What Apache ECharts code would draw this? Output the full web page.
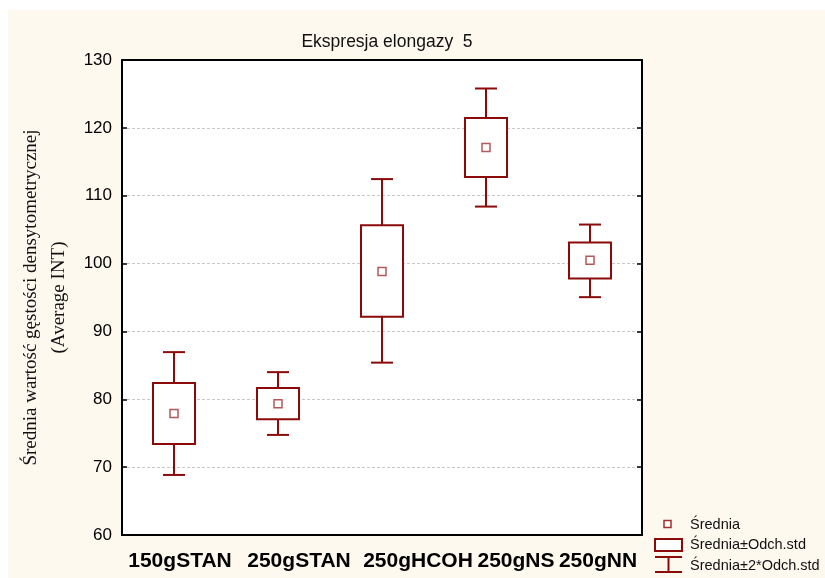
<!DOCTYPE html>
<html>
<head>
<meta charset="utf-8">
<script src="https://cdn.jsdelivr.net/npm/echarts@6/dist/echarts.min.js"></script>
<style>
  html, body { margin: 0; padding: 0; background: #fff; }
  #chart { width: 825px; height: 578px; }
</style>
</head>
<body>
<div id="chart"></div>
<script>
// values
const categories = ['150gSTAN', '250gSTAN', '250gHCOH', '250gNS', '250gNN'];
const means   = [77.9, 79.35, 98.85, 117.1, 100.5];
const sdLow   = [73.4, 77.05, 92.15, 112.75, 97.8];
const sdHigh  = [82.4, 81.65, 105.65, 121.45, 103.1];
const sd2Low  = [68.85, 74.75, 85.4, 108.4, 95.05];
const sd2High = [86.95, 84.0, 112.45, 125.8, 105.75];
const yTicks  = [60, 70, 80, 90, 100, 110, 120, 130];

const red = '#8b0a0a';
const cream = '#fef9ef';

// the category labels are set as one run of text, shifted off their ticks
const labelShift = [6, 21, 36, 30, 8];

let boxData = categories.map(function (c, i) {
    return [i, sd2Low[i], sdLow[i], sdHigh[i], sd2High[i]];
});
let meanData = categories.map(function (c, i) { return [i, means[i]]; });

let labelRich = {};
labelShift.forEach(function (s, i) {
    labelRich['c' + i] = { fontSize: 21, fontWeight: 'bold', color: '#000', padding: [0, 0, 0, 2 * s] };
});

function renderBox(params, api) {
    let x = api.value(0);
    let pWLo = api.coord([x, api.value(1)]);
    let pBLo = api.coord([x, api.value(2)]);
    let pBHi = api.coord([x, api.value(3)]);
    let pWHi = api.coord([x, api.value(4)]);
    let cx = pWLo[0];
    let halfBox = 21, halfCap = 11;
    let st = { stroke: red, lineWidth: 2, fill: null };
    return {
        type: 'group',
        children: [
            { type: 'line', shape: { x1: cx, y1: pWHi[1], x2: cx, y2: pBHi[1] }, style: st },
            { type: 'line', shape: { x1: cx, y1: pBLo[1], x2: cx, y2: pWLo[1] }, style: st },
            { type: 'line', shape: { x1: cx - halfCap, y1: pWHi[1], x2: cx + halfCap, y2: pWHi[1] }, style: st },
            { type: 'line', shape: { x1: cx - halfCap, y1: pWLo[1], x2: cx + halfCap, y2: pWLo[1] }, style: st },
            { type: 'rect', shape: { x: cx - halfBox, y: pBHi[1], width: halfBox * 2, height: pBLo[1] - pBHi[1] },
              style: { stroke: red, lineWidth: 2, fill: '#fff' } }
        ]
    };
}

let myChart = echarts.init(document.getElementById('chart'));
let legendFont = '14.5px Liberation Sans';
let option = {
    backgroundColor: '#fff',
    animation: false,
    textStyle: { fontFamily: 'Liberation Sans, Arial, sans-serif' },
    title: {
        text: 'Ekspresja elongazy  5',
        left: 382,
        top: 28,
        textAlign: 'center',
        textStyle: { fontSize: 17.5, fontWeight: 'normal', color: '#111' }
    },
    graphic: [
        { type: 'rect', z: -10, shape: { x: 8, y: 10, width: 817, height: 568 }, style: { fill: cream } },
        // legend
        { type: 'rect', shape: { x: 664, y: 520.5, width: 7, height: 7 }, style: { stroke: '#a03030', lineWidth: 1.5, fill: '#fff' } },
        { type: 'rect', shape: { x: 655, y: 539, width: 27, height: 12 }, style: { stroke: red, lineWidth: 2, fill: '#fff' } },
        { type: 'line', shape: { x1: 655, y1: 557, x2: 682, y2: 557 }, style: { stroke: red, lineWidth: 2 } },
        { type: 'line', shape: { x1: 668.5, y1: 557, x2: 668.5, y2: 572 }, style: { stroke: red, lineWidth: 2 } },
        { type: 'line', shape: { x1: 655, y1: 572, x2: 682, y2: 572 }, style: { stroke: red, lineWidth: 2 } },
        { type: 'text', x: 690, y: 525, style: { text: 'Średnia', font: legendFont, fill: '#111', verticalAlign: 'middle' } },
        { type: 'text', x: 690, y: 545, style: { text: 'Średnia±Odch.std', font: legendFont, fill: '#111', verticalAlign: 'middle' } },
        { type: 'text', x: 690, y: 566, style: { text: 'Średnia±2*Odch.std', font: legendFont, fill: '#111', verticalAlign: 'middle' } }
    ],
    grid: {
        left: 122, top: 60, right: 183, bottom: 43,
        show: true, backgroundColor: '#fff', borderWidth: 0
    },
    xAxis: [
        {
            type: 'category',
            data: categories,
            boundaryGap: true,
            axisLine: { lineStyle: { color: '#000', width: 2 } },
            axisTick: { inside: true, alignWithLabel: true, length: 5, lineStyle: { color: '#000', width: 1.5 } },
            axisLabel: {
                color: '#000', fontSize: 21, fontWeight: 'bold', margin: 16, interval: 0,
                hideOverlap: false,
                formatter: function (value, idx) { return '{c' + idx + '|' + value + '}'; },
                rich: labelRich
            },
            splitLine: { show: false }
        },
        {
            type: 'category',
            position: 'top',
            data: categories,
            boundaryGap: true,
            axisLine: { lineStyle: { color: '#000', width: 2 } },
            axisTick: { inside: true, alignWithLabel: true, length: 5, lineStyle: { color: '#000', width: 1.5 } },
            axisLabel: { show: false }
        }
    ],
    yAxis: [
        {
            type: 'value',
            min: yTicks[0],
            max: yTicks[yTicks.length - 1],
            interval: 10,
            name: 'Średnia wartość gęstości densytometrycznej\n(Average INT)',
            nameLocation: 'middle',
            nameRotate: 90,
            nameGap: 44,
            nameTextStyle: { fontFamily: 'Liberation Serif, Times New Roman, serif', fontSize: 19, color: '#111', lineHeight: 28 },
            axisLine: { show: true, lineStyle: { color: '#000', width: 2 } },
            axisTick: { show: true, inside: true, length: 5, lineStyle: { color: '#000', width: 1.5 } },
            axisLabel: { color: '#000', fontSize: 17, margin: 10 },
            splitLine: { show: true, lineStyle: { color: '#c8c8c8', type: [3, 2], width: 1 } }
        },
        {
            type: 'value',
            position: 'right',
            min: yTicks[0],
            max: yTicks[yTicks.length - 1],
            interval: 10,
            axisLine: { show: true, lineStyle: { color: '#000', width: 2 } },
            axisTick: { show: true, inside: true, length: 5, lineStyle: { color: '#000', width: 1.5 } },
            axisLabel: { show: false },
            splitLine: { show: false }
        }
    ],
    series: [
        {
            type: 'custom',
            name: 'Średnia±Odch.std',
            renderItem: renderBox,
            encode: { x: 0, y: [1, 2, 3, 4] },
            data: boxData,
            z: 2
        },
        {
            type: 'scatter',
            name: 'Średnia',
            data: meanData,
            symbol: 'rect',
            symbolSize: 8,
            itemStyle: { color: '#fff', borderColor: '#a03030', borderWidth: 1.5 },
            z: 3
        }
    ]
};
myChart.setOption(option);
</script>
</body>
</html>
